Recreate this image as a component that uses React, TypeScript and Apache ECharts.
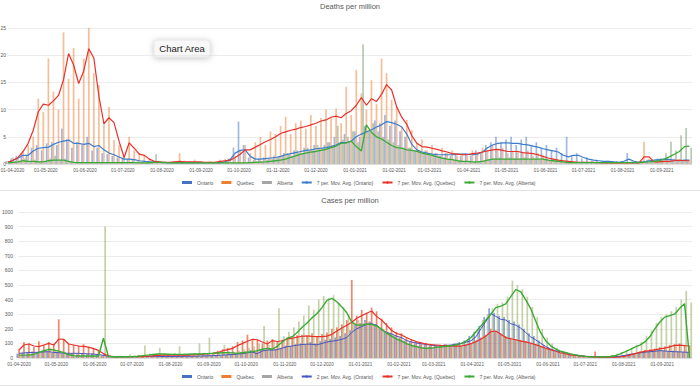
import React, { useEffect, useRef } from "react";
import * as echarts from "echarts";

// x positions: one sample every 4 days from 01-04-2020
const START_Y = 2020, START_M = 3, START_D = 1, STEP_DAYS = 4, N = 136;
const dates: number[] = Array.from({ length: N }, (_, i) => new Date(START_Y, START_M, START_D + i * STEP_DAYS).getTime());

const monthLabels = [
  "01-04-2020", "01-05-2020", "01-06-2020", "01-07-2020", "01-08-2020", "01-09-2020",
  "01-10-2020", "01-11-2020", "01-12-2020", "01-01-2021", "01-02-2021", "01-03-2021",
  "01-04-2021", "01-05-2021", "01-06-2021", "01-07-2021", "01-08-2021", "01-09-2021",
];

// ---------- Deaths per million ----------
const deathsOntario = [
  0.5, 1.0, 1.5, 2.0, 1.5, 3.0, 3.5, 2.5, 3.8, 4.0,
  3.5, 6.5, 4.5, 3.0, 4.0, 3.5, 5.0, 2.5, 3.0, 2.0,
  1.8, 1.5, 1.2, 1.0, 0.8, 0.8, 0.5, 0.4, 0.5, 0.3,
  0.3, 0.2, 0.3, 0.2, 0.2, 0.3, 0.2, 0.2, 0.3, 0.2,
  0.3, 0.2, 0.3, 0.5, 1.0, 3.0, 7.8, 3.5, 1.2, 0.8,
  1.0, 1.2, 1.0, 1.5, 1.3, 2.0, 1.8, 2.5, 2.0, 3.0,
  2.5, 3.5, 3.0, 3.5, 4.0, 5.0, 3.5, 5.5, 4.0, 6.0,
  5.0, 7.0, 6.0, 8.0, 7.5, 9.0, 7.0, 8.0, 6.0, 5.0,
  3.0, 2.5, 2.0, 2.5, 1.5, 2.0, 1.5, 2.0, 1.5, 2.0,
  1.5, 2.0, 1.5, 2.5, 2.0, 3.5, 4.0, 5.0, 4.0, 4.5,
  5.0, 3.5, 4.5, 5.0, 3.5, 4.0, 3.0, 3.5, 2.5, 3.0,
  2.0, 5.0, 1.5, 2.0, 1.0, 1.2, 0.6, 0.8, 0.5, 0.6,
  0.3, 0.5, 0.4, 2.0, 0.5, 0.3, 0.5, 0.8, 0.6, 1.0,
  0.8, 1.2, 0.6, 0.8, 0.7, 0.5,
];
const deathsQuebec = [
  0.5, 1.2, 1.0, 2.5, 3.5, 5.0, 12.0, 9.6, 19.4, 13.3,
  10.0, 24.2, 15.7, 21.3, 12.0, 19.4, 25.0, 16.7, 14.5, 7.8,
  10.5, 4.4, 3.5, 1.3, 5.0, 2.5, 2.0, 1.5, 1.0, 0.6,
  0.5, 0.4, 0.3, 0.5, 2.0, 0.6, 0.5, 0.8, 0.4, 0.3,
  0.5, 0.4, 0.8, 0.9, 1.0, 1.5, 2.5, 3.5, 2.0, 4.0,
  5.0, 3.5, 6.0, 5.5, 7.0, 8.7, 5.5, 7.5, 8.0, 6.5,
  9.0, 7.0, 8.5, 10.0, 8.4, 10.2, 7.5, 14.2, 9.0, 17.3,
  13.0, 10.0, 15.4, 11.0, 19.4, 16.7, 11.8, 10.5, 6.9, 8.1,
  6.2, 3.8, 4.5, 2.5, 3.5, 2.0, 3.0, 2.0, 2.5, 1.5,
  2.0, 1.5, 2.5, 2.0, 3.0, 2.5, 3.5, 2.5, 3.0, 2.0,
  2.5, 2.5, 2.0, 2.5, 1.5, 2.0, 1.5, 1.0, 1.0, 0.8,
  0.6, 0.5, 0.4, 0.3, 0.4, 0.2, 0.3, 0.2, 0.3, 0.1,
  0.2, 0.2, 0.1, 0.2, 0.3, 0.5, 4.1, 1.0, 0.5, 0.6,
  0.8, 0.5, 1.0, 0.7, 0.8, 0.5,
];
const deathsAlberta = [
  0.3, 0.5, 0.6, 1.0, 0.5, 0.8, 0.5, 0.3, 1.0, 1.5,
  0.8, 1.0, 0.5, 0.4, 0.3, 0.2, 0.3, 0.2, 0.3, 0.2,
  0.3, 0.2, 0.3, 0.2, 0.3, 0.2, 0.3, 0.2, 0.3, 1.8,
  0.5, 0.3, 0.2, 0.3, 0.2, 0.3, 0.2, 0.3, 0.2, 0.3,
  0.2, 0.3, 0.2, 0.3, 0.2, 0.3, 0.2, 0.3, 0.4, 0.5,
  0.5, 0.8, 1.0, 1.2, 1.5, 2.0, 1.5, 2.5, 2.0, 3.0,
  2.5, 3.5, 3.0, 4.0, 3.5, 7.0, 4.5, 5.0, 6.0, 4.0,
  22.0, 6.0, 7.5, 6.0, 5.0, 4.5, 4.0, 3.5, 3.0, 3.0,
  2.5, 2.5, 2.0, 2.0, 1.5, 1.5, 1.2, 1.0, 0.8, 0.6,
  0.5, 0.5, 0.4, 0.5, 0.6, 0.8, 1.0, 1.2, 1.0, 1.2,
  1.0, 1.0, 1.2, 0.8, 1.0, 0.8, 1.0, 0.7, 0.6, 0.5,
  0.4, 0.3, 0.2, 0.3, 0.2, 0.3, 0.2, 0.3, 0.2, 0.3,
  0.2, 0.3, 0.2, 0.3, 0.4, 0.5, 0.4, 0.5, 0.6, 1.0,
  2.0, 4.1, 2.5, 5.3, 6.6, 3.0,
];
const deathsOntarioMA = [
  0.3, 0.7, 1.1, 1.6, 1.6, 2.4, 2.9, 3.0, 3.1, 3.6,
  4.0, 4.2, 4.4, 3.8, 3.8, 3.6, 3.8, 3.2, 3.4, 2.6,
  2.0, 1.7, 1.3, 0.9, 0.9, 0.8, 0.6, 0.5, 0.4, 0.4,
  0.3, 0.25, 0.25, 0.25, 0.25, 0.25, 0.25, 0.25, 0.25, 0.25,
  0.25, 0.25, 0.25, 0.4, 0.8, 2.0, 2.5, 2.6, 1.4, 0.9,
  0.9, 1.0, 1.1, 1.2, 1.4, 1.7, 1.9, 2.1, 2.3, 2.5,
  2.6, 2.8, 2.9, 3.0, 3.2, 3.5, 4.0, 3.9, 4.2, 5.0,
  5.5, 5.9, 6.3, 6.8, 7.2, 7.8, 7.6, 7.3, 6.8, 5.5,
  3.6, 2.6, 2.2, 2.0, 1.8, 1.7, 1.7, 1.7, 1.7, 1.8,
  1.8, 1.8, 1.7, 1.8, 2.2, 3.0, 3.5, 3.8, 3.9, 3.9,
  3.8, 3.8, 3.6, 3.5, 3.3, 3.1, 2.8, 2.6, 2.4, 2.2,
  1.6, 1.3, 1.6, 1.6, 1.2, 0.9, 0.7, 0.6, 0.5, 0.5,
  0.4, 0.3, 0.5, 0.9, 0.5, 0.3, 0.4, 0.6, 0.7, 0.8,
  0.9, 0.8, 0.7, 0.6, 0.7, 0.7,
];
const deathsQuebecMA = [
  0.3, 0.7, 1.2, 2.3, 3.8, 6.2, 9.6, 11.0, 10.8, 11.6,
  12.6, 15.5, 20.3, 18.2, 14.8, 17.1, 21.2, 19.5, 12.5, 7.4,
  8.5, 7.6, 4.2, 1.2, 3.9, 2.9, 1.8, 1.6, 0.9, 0.5,
  0.4, 0.3, 0.3, 0.4, 0.5, 0.4, 0.4, 0.4, 0.4, 0.3,
  0.3, 0.3, 0.5, 0.6, 0.7, 1.2, 1.8, 2.6, 2.6, 3.1,
  3.6, 4.1, 4.5, 5.0, 5.6, 5.9, 6.2, 6.4, 6.7, 6.9,
  7.2, 7.5, 7.9, 8.1, 8.6, 8.8, 8.5, 9.3, 9.8, 10.8,
  12.2, 10.8, 12.0, 11.5, 12.8, 14.6, 13.6, 10.5, 8.6, 7.3,
  5.2, 3.8, 3.2, 3.1, 2.9, 2.7, 2.4, 2.2, 1.9, 1.8,
  1.7, 1.7, 1.9, 2.0, 2.2, 2.4, 2.6, 2.7, 2.5, 2.3,
  2.3, 2.3, 2.1, 2.0, 1.9, 1.7, 1.4, 1.1, 0.9, 0.7,
  0.6, 0.5, 0.4, 0.3, 0.3, 0.3, 0.3, 0.25, 0.2, 0.2,
  0.2, 0.2, 0.2, 0.2, 0.2, 0.2, 1.3, 1.3, 0.4, 0.4,
  0.5, 0.5, 0.6, 0.7, 0.6, 0.6,
];
const deathsAlbertaMA = [
  0.2, 0.3, 0.4, 0.6, 0.5, 0.5, 0.4, 0.4, 0.6, 0.7,
  0.7, 0.7, 0.5, 0.3, 0.25, 0.25, 0.25, 0.25, 0.25, 0.25,
  0.25, 0.25, 0.25, 0.25, 0.25, 0.25, 0.2, 0.2, 0.2, 0.3,
  0.3, 0.3, 0.2, 0.2, 0.2, 0.2, 0.2, 0.2, 0.2, 0.2,
  0.2, 0.2, 0.2, 0.2, 0.2, 0.2, 0.2, 0.2, 0.25, 0.3,
  0.35, 0.4, 0.5, 0.6, 0.7, 0.9, 1.2, 1.5, 1.8, 2.0,
  2.2, 2.3, 2.5, 2.7, 3.0, 3.3, 3.8, 3.9, 4.2, 3.2,
  2.4, 7.2, 5.8, 5.0, 4.6, 4.0, 3.4, 3.0, 2.9, 2.6,
  2.5, 2.3, 2.0, 1.8, 1.6, 1.3, 1.1, 0.9, 0.8, 0.6,
  0.5, 0.5, 0.4, 0.4, 0.5, 0.7, 0.9, 0.9, 0.9, 0.9,
  0.9, 0.9, 0.9, 0.9, 0.9, 0.9, 0.9, 0.7, 0.6, 0.5,
  0.4, 0.25, 0.25, 0.25, 0.25, 0.25, 0.25, 0.25, 0.25, 0.25,
  0.25, 0.25, 0.25, 0.25, 0.25, 0.25, 0.35, 0.4, 0.5, 0.6,
  0.9, 1.3, 1.8, 2.3, 3.2, 3.3,
];

// ---------- Cases per million ----------
const casesOntario = [
  30, 35, 40, 45, 40, 50, 45, 35, 40, 30,
  35, 30, 25, 35, 25, 30, 20, 15, 12, 10,
  8, 10, 8, 10, 8, 10, 12, 10, 12, 10,
  10, 12, 10, 12, 12, 10, 14, 12, 15, 16,
  18, 15, 20, 25, 30, 40, 45, 55, 40, 60,
  55, 65, 60, 70, 85, 80, 95, 100, 95, 110,
  100, 115, 125, 130, 140, 150, 170, 190, 230, 240,
  260, 250, 230, 200, 180, 170, 150, 140, 120, 110,
  100, 95, 90, 85, 90, 80, 95, 85, 100, 110,
  120, 150, 180, 220, 280, 340, 310, 290, 280, 260,
  250, 230, 200, 170, 150, 120, 90, 70, 55, 45,
  35, 25, 18, 15, 12, 10, 10, 9, 10, 10,
  12, 15, 20, 25, 30, 35, 40, 45, 50, 55,
  50, 45, 50, 45, 40, 40,
];
const casesQuebec = [
  60, 110, 100, 75, 115, 90, 110, 95, 265, 130,
  100, 90, 85, 95, 75, 70, 50, 25, 15, 10,
  8, 12, 8, 10, 20, 12, 15, 20, 25, 18,
  22, 15, 20, 22, 18, 15, 20, 25, 30, 35,
  50, 60, 70, 80, 110, 120, 160, 130, 125, 100,
  120, 130, 110, 125, 140, 150, 155, 160, 150, 170,
  145, 165, 175, 200, 210, 230, 260, 535, 290, 330,
  310, 345, 320, 270, 240, 210, 180, 170, 140, 130,
  110, 100, 105, 95, 90, 85, 95, 80, 90, 85,
  95, 105, 120, 140, 160, 200, 185, 170, 150, 140,
  130, 125, 115, 100, 90, 80, 65, 55, 40, 35,
  28, 20, 15, 12, 10, 8, 45, 8, 8, 10,
  12, 15, 20, 30, 35, 45, 55, 60, 65, 75,
  80, 90, 95, 100, 90, 85,
];
const casesAlberta = [
  20, 15, 25, 20, 35, 50, 70, 55, 45, 40,
  25, 20, 15, 12, 15, 10, 12, 900, 10, 8,
  15, 12, 25, 15, 20, 85, 30, 25, 70, 30,
  25, 35, 80, 30, 25, 30, 100, 35, 140, 40,
  35, 90, 45, 40, 50, 60, 70, 80, 100, 220,
  90, 120, 340, 150, 180, 210, 250, 290, 360, 330,
  400, 425, 410, 430, 380, 350, 300, 250, 260, 240,
  250, 230, 220, 200, 180, 160, 140, 120, 100, 90,
  80, 70, 75, 70, 80, 75, 85, 90, 95, 110,
  130, 160, 200, 260, 300, 340, 370, 380, 420, 530,
  500, 470, 420, 350, 280, 200, 140, 100, 70, 50,
  35, 25, 20, 15, 12, 10, 10, 12, 15, 20,
  30, 40, 55, 70, 90, 110, 150, 190, 240, 280,
  300, 320, 350, 400, 460, 380,
];
const casesOntarioMA = [
  32, 35, 37, 38, 40, 42, 43, 38, 36, 33,
  32, 32, 32, 30, 28, 27, 23, 18, 12, 9,
  9, 9, 9, 10, 10, 11, 11, 12, 11, 10,
  10, 10, 11, 11, 12, 12, 13, 14, 15, 16,
  18, 20, 22, 24, 27, 30, 36, 40, 30, 48,
  55, 54, 57, 68, 78, 82, 88, 92, 95, 94,
  90, 100, 110, 115, 120, 128, 140, 175, 200, 215,
  230, 235, 225, 195, 175, 165, 150, 140, 120, 110,
  102, 98, 92, 88, 84, 82, 86, 89, 95, 100,
  108, 118, 145, 200, 250, 305, 285, 265, 260, 235,
  225, 205, 175, 145, 125, 102, 80, 62, 50, 44,
  36, 27, 21, 16, 12, 10, 9, 8, 8, 8,
  9, 12, 18, 24, 30, 35, 40, 43, 46, 50,
  48, 45, 43, 42, 40, 39,
];
const casesQuebecMA = [
  55, 89, 96, 82, 78, 89, 100, 89, 130, 128,
  96, 89, 82, 79, 74, 64, 52, 30, 14, 9,
  9, 9, 9, 9, 9, 10, 12, 15, 18, 20,
  20, 20, 20, 20, 20, 22, 24, 26, 30, 32,
  38, 50, 57, 66, 85, 100, 115, 128, 125, 110,
  96, 119, 113, 118, 130, 135, 143, 149, 151, 148,
  146, 146, 150, 162, 185, 205, 225, 245, 272, 290,
  306, 322, 285, 260, 225, 190, 168, 158, 140, 125,
  112, 104, 96, 92, 89, 86, 84, 82, 82, 82,
  88, 98, 112, 128, 150, 180, 185, 162, 140, 132,
  125, 116, 110, 102, 92, 80, 68, 57, 46, 36,
  29, 22, 18, 14, 11, 9, 7, 6, 5, 5,
  5, 7, 12, 20, 30, 38, 45, 50, 56, 62,
  68, 76, 86, 88, 85, 84,
];
const casesAlbertaMA = [
  20, 20, 20, 25, 37, 50, 59, 55, 47, 37,
  22, 16, 14, 14, 14, 14, 14, 135, 10, 9,
  9, 9, 9, 10, 12, 16, 20, 24, 27, 27,
  26, 25, 25, 25, 26, 27, 27, 28, 30, 32,
  34, 36, 37, 35, 32, 36, 40, 43, 50, 60,
  66, 60, 80, 110, 135, 146, 175, 210, 240, 275,
  305, 345, 395, 408, 385, 350, 310, 245, 225, 225,
  232, 230, 220, 198, 170, 150, 130, 115, 98, 86,
  78, 70, 66, 68, 73, 77, 80, 84, 90, 98,
  115, 140, 180, 220, 260, 300, 345, 355, 370, 420,
  468, 455, 400, 340, 255, 175, 120, 85, 62, 47,
  38, 28, 21, 15, 11, 9, 8, 8, 9, 10,
  15, 28, 42, 58, 75, 88, 110, 145, 200, 245,
  280, 290, 300, 340, 372, 0,
];

const FONT = "'Liberation Sans', Arial, sans-serif";
const GREY = "#595959";

const pairs = (arr: number[]) => arr.map((v, i) => [dates[i], v]);
const monthTicks = monthLabels.map((s) => {
  const [d, m, y] = s.split("-").map(Number);
  return new Date(y, m - 1, d).getTime();
});
const X_MIN = new Date(2020, 3, 1).getTime();
const X_MAX = new Date(2020, 3, 1 + 542).getTime();
const labelOf = (v: number) => monthLabels[monthTicks.indexOf(v)] ?? "";

function xAxis(gridIndex: number, shiftFirst: boolean) {
  return {
    type: "value",
    gridIndex,
    min: X_MIN,
    max: X_MAX,
    axisLine: { show: true, lineStyle: { color: "#d9d9d9", width: 0.8 } },
    axisTick: { show: false, customValues: monthTicks },
    splitLine: { show: false },
    axisLabel: {
      customValues: monthTicks,
      formatter: (v: number) => (shiftFirst && v === X_MIN ? "{first|" + labelOf(v) + "}" : labelOf(v)),
      rich: { first: { fontSize: 4.6, color: GREY, padding: [0, 0, 0, 9], fontFamily: FONT } },
      fontSize: 4.6,
      color: GREY,
      margin: 4,
      hideOverlap: false,
      fontFamily: FONT,
    },
  };
}
function yAxis(gridIndex: number, max: number, interval: number, margin: number) {
  return {
    type: "value",
    gridIndex,
    min: 0,
    max,
    interval,
    axisLine: { show: false },
    axisTick: { show: false },
    splitLine: { lineStyle: { color: "#e4e4e4", width: 0.7 } },
    axisLabel: { fontSize: 5, color: GREY, margin, fontFamily: FONT, formatter: (v: number) => String(v) },
  };
}
function bar(name: string, data: number[], idx: number, color: string) {
  return {
    type: "bar",
    name,
    xAxisIndex: idx,
    yAxisIndex: idx,
    data: pairs(data),
    barWidth: 1.7,
    barGap: "0%",
    itemStyle: { color },
    silent: true,
  };
}
function line(name: string, data: number[], idx: number, color: string, width: number) {
  return {
    type: "line",
    name,
    xAxisIndex: idx,
    yAxisIndex: idx,
    data: pairs(data),
    symbol: "none",
    lineStyle: { color, width },
    itemStyle: { color },
    silent: true,
  };
}
function legend(top: number, onName: string) {
  return {
    left: 182,
    top,
    padding: 0,
    itemWidth: 10,
    itemHeight: 3,
    itemGap: 8,
    selectedMode: false,
    textStyle: { fontSize: 5, color: GREY, fontFamily: FONT },
    data: [
      { name: "Ontario", icon: "rect", itemStyle: { color: "#4472C4" } },
      { name: "Quebec", icon: "rect", itemStyle: { color: "#ED7D31" } },
      { name: "Alberta", icon: "rect", itemStyle: { color: "#A5A5A5" } },
      { name: onName },
      { name: "7 per. Mov. Avg. (Quebec)" },
      { name: "7 per. Mov. Avg. (Alberta)" },
    ],
  };
}

export default function App() {
  const ref = useRef<HTMLDivElement>(null);
  useEffect(() => {
    document.body.style.margin = "0";
    const chart = echarts.init(ref.current!, null, { renderer: "svg" });
    chart.setOption({
      animation: false,
      backgroundColor: "#ffffff",
      textStyle: { fontFamily: FONT },
      title: [
        { text: "Deaths per million", left: "center", top: 2, padding: 0, textStyle: { fontSize: 7.5, fontWeight: "normal", color: GREY, fontFamily: FONT } },
        { text: "Cases per million", left: "center", top: 196, padding: 0, textStyle: { fontSize: 7.5, fontWeight: "normal", color: GREY, fontFamily: FONT } },
      ],
      legend: [legend(180, "7 per. Mov. Avg. (Ontario)"), legend(374, "2 per. Mov. Avg. (Ontario)")],
      grid: [
        { left: 8, right: 8, top: 28, bottom: 222, containLabel: false, outerBoundsMode: "none" },
        { left: 19, right: 8, top: 212, bottom: 28, containLabel: false, outerBoundsMode: "none" },
      ],
      xAxis: [xAxis(0, true), xAxis(1, false)],
      yAxis: [yAxis(0, 25, 5, 2), yAxis(1, 1000, 100, 6)],
      series: [
        bar("Ontario", deathsOntario, 0, "rgba(68,114,196,0.5)"),
        bar("Quebec", deathsQuebec, 0, "rgba(237,125,49,0.5)"),
        bar("Alberta", deathsAlberta, 0, "rgba(110,150,100,0.5)"),
        line("7 per. Mov. Avg. (Ontario)", deathsOntarioMA, 0, "#3D7DCA", 1.2),
        line("7 per. Mov. Avg. (Quebec)", deathsQuebecMA, 0, "#E8312B", 1.2),
        line("7 per. Mov. Avg. (Alberta)", deathsAlbertaMA, 0, "#3AAA35", 1.3),
        bar("Ontario", casesOntario, 1, "rgba(60,95,190,0.6)"),
        bar("Quebec", casesQuebec, 1, "rgba(228,90,50,0.72)"),
        bar("Alberta", casesAlberta, 1, "rgba(150,172,95,0.55)"),
        line("2 per. Mov. Avg. (Ontario)", casesOntarioMA, 1, "#4355C0", 1),
        line("7 per. Mov. Avg. (Quebec)", casesQuebecMA, 1, "#E8312B", 1.2),
        line("7 per. Mov. Avg. (Alberta)", casesAlbertaMA, 1, "#3AAA35", 1.4),
      ],
      graphic: [
        { type: "line", shape: { x1: 0, y1: 190.5, x2: 700, y2: 190.5 }, style: { stroke: "#e2e2e2", lineWidth: 1 }, silent: true },
        { type: "line", shape: { x1: 0, y1: 385.5, x2: 700, y2: 385.5 }, style: { stroke: "#e2e2e2", lineWidth: 1 }, silent: true },
        {
          type: "group",
          z: 100,
          children: [
            {
              type: "rect",
              shape: { x: 154, y: 40, width: 56, height: 17, r: 3 },
              style: { fill: "#f8f8f8", stroke: "#d6d6d6", lineWidth: 0.5, shadowBlur: 6, shadowColor: "rgba(0,0,0,0.25)", shadowOffsetY: 1 },
            },
            {
              type: "text",
              x: 182,
              y: 48.5,
              style: { text: "Chart Area", fontSize: 9.5, fill: "#222222", align: "center", verticalAlign: "middle", fontFamily: FONT },
            },
          ],
        },
      ],
    });
    return () => chart.dispose();
  }, []);
  return <div ref={ref} style={{ position: "fixed", left: 0, top: 0, width: 700, height: 386 }} />;
}
